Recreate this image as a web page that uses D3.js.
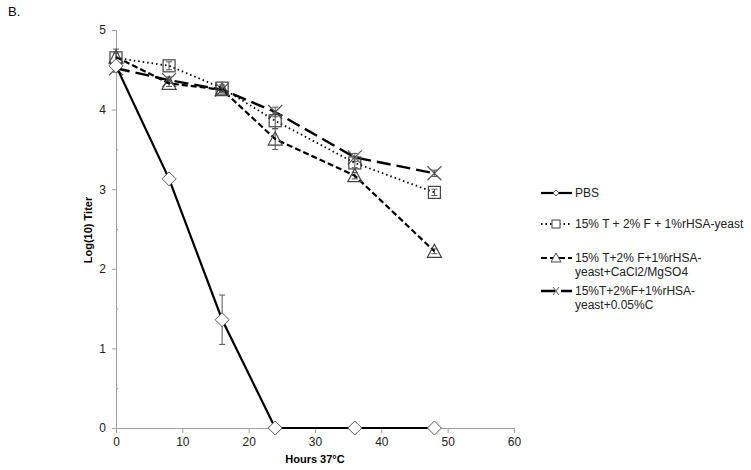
<!DOCTYPE html>
<html><head><meta charset="utf-8">
<script src="https://cdn.jsdelivr.net/npm/d3@7"></script>
<style>body{margin:0;background:#fff}svg{display:block;font-family:"Liberation Sans",Arial,sans-serif}</style>
</head><body><svg id="c" width="751" height="470"></svg>
<script>
const hours = [0, 8, 16, 24, 36, 48];
const pbs = [4.55, 3.13, 1.36, 0, 0, 0];
const pbsErr = [0, 0, 0.31, 0, 0, 0];
const sq = [4.65, 4.55, 4.27, 3.86, 3.33, 2.96];
const sqErr = [0.06, 0.05, 0.04, 0.1, 0.06, 0.04];
const tri = [4.66, 4.33, 4.25, 3.63, 3.17, 2.22];
const triErr = [0.1, 0.04, 0.03, 0.13, 0.04, 0.03];
const cx = [4.52, 4.37, 4.25, 3.97, 3.40, 3.20];
const cxErr = [0.05, 0.04, 0.03, 0.06, 0.05, 0.04];
const seriesNames = [["PBS"], ["15% T + 2% F + 1%rHSA-yeast"], ["15% T+2% F+1%rHSA-", "yeast+CaCl2/MgSO4"], ["15%T+2%F+1%rHSA-", "yeast+0.05%C"]];
const xTicks = [0, 10, 20, 30, 40, 50, 60];
const yTicks = [0, 1, 2, 3, 4, 5];

const svg = d3.select("#c");
const x = d3.scaleLinear().domain([0, 60]).range([116, 514]);
const y = d3.scaleLinear().domain([0, 5]).range([428, 30]);
const axisCol = "#a0a0a0";

svg.append("text").attr("x", 8).attr("y", 16).attr("font-size", 13).text("B.");

// y axis
const ya = svg.append("g").attr("transform", "translate(116,0)")
  .call(d3.axisLeft(y).tickValues(yTicks).tickSize(4).tickPadding(6).tickFormat(d3.format("d")));
ya.select(".domain").attr("stroke", axisCol);
ya.selectAll(".tick line").attr("stroke", axisCol);
ya.selectAll("text").attr("font-size", 12).attr("fill", "#222").attr("font-family", "Liberation Sans, Arial");
const yminor = svg.append("g").attr("transform", "translate(116,0)")
  .call(d3.axisRight(y).tickValues([0.5,1.5,2.5,3.5,4.5]).tickSize(2).tickFormat(""));
yminor.select(".domain").remove();
yminor.selectAll(".tick line").attr("stroke", axisCol);

// x axis
const xa = svg.append("g").attr("transform", "translate(0,428)")
  .call(d3.axisBottom(x).tickValues(xTicks).tickSize(5).tickPadding(4).tickFormat(d3.format("d")));
xa.select(".domain").attr("stroke", axisCol);
xa.selectAll(".tick line").attr("stroke", axisCol);
xa.selectAll("text").attr("font-size", 12).attr("fill", "#222").attr("font-family", "Liberation Sans, Arial");

svg.append("text").attr("x", 315).attr("y", 463).attr("text-anchor", "middle")
  .attr("font-size", 11).attr("font-weight", "bold").text("Hours 37°C");
svg.append("text").attr("transform", "translate(92,230) rotate(-90)").attr("text-anchor", "middle")
  .attr("font-size", 11).attr("font-weight", "bold").text("Log(10) Titer");

const series = [
  {vals: pbs, err: pbsErr, dash: null, w: 2.2, mk: "diamond"},
  {vals: sq, err: sqErr, dash: "1.5,3", w: 1.8, mk: "square"},
  {vals: tri, err: triErr, dash: "6,3", w: 2.2, mk: "triangle"},
  {vals: cx, err: cxErr, dash: "14,6", w: 2.4, mk: "cross"}
];

function drawMarker(g, type, px, py) {
  if (type === "diamond") {
    g.append("path").attr("d", `M${px},${py-7}L${px+7},${py}L${px},${py+7}L${px-7},${py}Z`)
      .attr("fill", "#fff").attr("stroke", "#555").attr("stroke-width", 1);
  } else if (type === "square") {
    g.append("rect").attr("x", px-6).attr("y", py-6).attr("width", 12).attr("height", 12)
      .attr("fill", "none").attr("stroke", "#444").attr("stroke-width", 1.2);
  } else if (type === "triangle") {
    g.append("path").attr("d", `M${px},${py-7}L${px+7},${py+6}L${px-7},${py+6}Z`)
      .attr("fill", "none").attr("stroke", "#444").attr("stroke-width", 1.2);
  } else {
    g.append("path").attr("d", `M${px-7},${py-7}L${px+7},${py+7}M${px+7},${py-7}L${px-7},${py+7}`)
      .attr("fill", "none").attr("stroke", "#555").attr("stroke-width", 1.2);
  }
}

const line = d3.line().x(d => x(d[0])).y(d => y(d[1]));
series.slice().reverse().forEach(s => {
  const g = svg.append("g");
  const pts = hours.map((h, i) => [h, s.vals[i]]);
  hours.forEach((h, i) => {
    if (s.err[i] > 0) {
      const px = x(h), y1 = y(s.vals[i] + s.err[i]), y2 = y(Math.max(0, s.vals[i] - s.err[i]));
      g.append("path").attr("d", `M${px},${y1}V${y2}M${px-3},${y1}H${px+3}M${px-3},${y2}H${px+3}`)
        .attr("stroke", "#555").attr("stroke-width", 1).attr("fill", "none");
    }
  });
  g.append("path").datum(pts).attr("d", line).attr("fill", "none").attr("stroke", "#000")
    .attr("stroke-width", s.w).attr("stroke-dasharray", s.dash);
  pts.forEach(p => drawMarker(g, s.mk, x(p[0]), y(p[1])));
});

// legend
const legY = [193, 224, 258, 291];
series.forEach((s, i) => {
  const g = svg.append("g");
  const ly = legY[i];
  g.append("path").attr("d", `M541,${ly}H572`).attr("stroke", "#000").attr("stroke-width", s.w)
    .attr("stroke-dasharray", s.dash);
  const lg = g.append("g");
  if (s.mk === "diamond") {
    lg.append("path").attr("d", `M556,${ly-3}L559,${ly}L556,${ly+3}L553,${ly}Z`).attr("fill", "#fff").attr("stroke", "#555");
  } else if (s.mk === "square") {
    lg.append("rect").attr("x", 552).attr("y", ly-4).attr("width", 8).attr("height", 8).attr("fill", "#fff").attr("stroke", "#444");
  } else if (s.mk === "triangle") {
    lg.append("path").attr("d", `M556,${ly-5}L561,${ly+4}L551,${ly+4}Z`).attr("fill", "#fff").attr("stroke", "#444");
  } else {
    lg.append("path").attr("d", `M553,${ly-4}L559,${ly+4}M559,${ly-4}L553,${ly+4}`).attr("stroke", "#555");
  }
  const t = g.append("text").attr("x", 575).attr("y", ly + 4).attr("font-size", 12).attr("fill", "#222");
  seriesNames[i].forEach((ln, j) => t.append("tspan").attr("x", 575).attr("dy", j ? 14 : 0).text(ln));
});
</script></body></html>
